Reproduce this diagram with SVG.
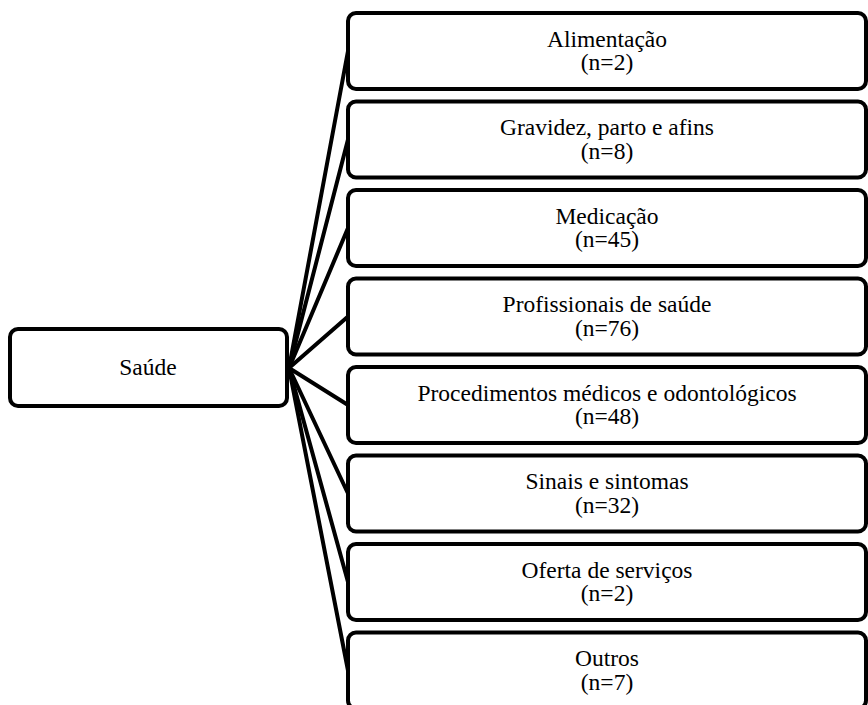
<svg xmlns="http://www.w3.org/2000/svg" width="868" height="705" viewBox="0 0 868 705">
<style>
.box{fill:#fff;stroke:#000;stroke-width:4}
.lbl{font-family:"Liberation Serif","Times New Roman",serif;font-size:23.5px;fill:#000;text-anchor:middle}
.con line{stroke:#000;stroke-width:4;stroke-linecap:round}
</style>
<rect width="868" height="705" fill="#fff"/>
<g id="connectors" class="con">
<line x1="289" y1="368" x2="348" y2="51"/>
<line x1="289" y1="368" x2="348" y2="139.5"/>
<line x1="289" y1="368" x2="348" y2="228"/>
<line x1="289" y1="368" x2="348" y2="316.5"/>
<line x1="289" y1="368" x2="348" y2="405"/>
<line x1="289" y1="368" x2="348" y2="493.5"/>
<line x1="289" y1="368" x2="348" y2="582"/>
<line x1="289" y1="368" x2="348" y2="670.5"/>
</g>
<g id="saude">
<rect class="box" x="10" y="329" width="277" height="77" rx="8"/>
<text class="lbl" x="148" y="375">Saúde</text>
</g>
<g id="n1">
<rect class="box" x="348" y="13" width="518" height="76" rx="8"/>
<text class="lbl" x="607" y="46.5">Alimentação</text>
<text class="lbl" x="607" y="70">(n=2)</text>
</g>
<g id="n2">
<rect class="box" x="348" y="101.5" width="518" height="76" rx="8"/>
<text class="lbl" x="607" y="135">Gravidez, parto e afins</text>
<text class="lbl" x="607" y="158.5">(n=8)</text>
</g>
<g id="n3">
<rect class="box" x="348" y="190" width="518" height="76" rx="8"/>
<text class="lbl" x="607" y="223.5">Medicação</text>
<text class="lbl" x="607" y="247">(n=45)</text>
</g>
<g id="n4">
<rect class="box" x="348" y="278.5" width="518" height="76" rx="8"/>
<text class="lbl" x="607" y="312">Profissionais de saúde</text>
<text class="lbl" x="607" y="335.5">(n=76)</text>
</g>
<g id="n5">
<rect class="box" x="348" y="367" width="518" height="76" rx="8"/>
<text class="lbl" x="607" y="400.5">Procedimentos médicos e odontológicos</text>
<text class="lbl" x="607" y="424">(n=48)</text>
</g>
<g id="n6">
<rect class="box" x="348" y="455.5" width="518" height="76" rx="8"/>
<text class="lbl" x="607" y="489">Sinais e sintomas</text>
<text class="lbl" x="607" y="512.5">(n=32)</text>
</g>
<g id="n7">
<rect class="box" x="348" y="544" width="518" height="76" rx="8"/>
<text class="lbl" x="607" y="577.5">Oferta de serviços</text>
<text class="lbl" x="607" y="601">(n=2)</text>
</g>
<g id="n8">
<rect class="box" x="348" y="632.5" width="518" height="76" rx="8"/>
<text class="lbl" x="607" y="666">Outros</text>
<text class="lbl" x="607" y="689.5">(n=7)</text>
</g>
</svg>
